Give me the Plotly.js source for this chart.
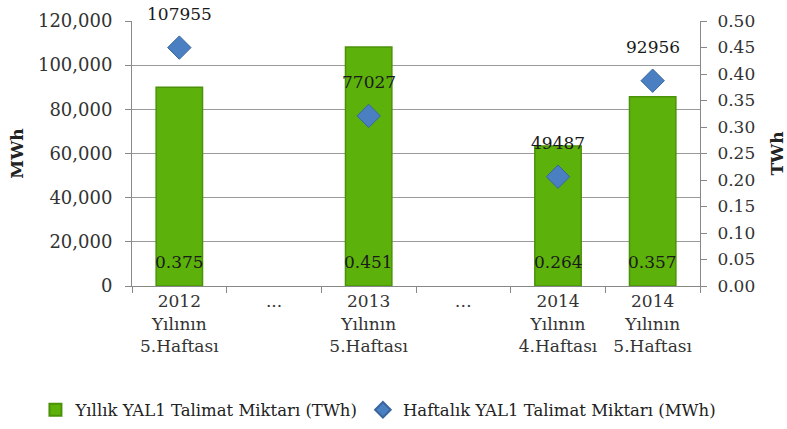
<!DOCTYPE html>
<html>
<head>
<meta charset="utf-8">
<script src="https://cdn.plot.ly/plotly-3.0.1.min.js"></script>
<style>html,body{margin:0;padding:0;background:#fff;}#chart{width:787px;height:429px;}</style>
</head>
<body>
<div id="chart"></div>
<script>
const categories = [
  "2012<br>Yılının<br>5.Haftası",
  "...",
  "2013<br>Yılının<br>5.Haftası",
  "…",
  "2014<br>Yılının<br>4.Haftası",
  "2014<br>Yılının<br>5.Haftası"
];
const yearlyTWh = [0.375, null, 0.451, null, 0.264, 0.357];
const weeklyMWh = [107955, null, 77027, null, 49487, 92956];
const seriesNames = ["Yıllık YAL1 Talimat Miktarı (TWh)", "Haftalık YAL1 Talimat Miktarı (MWh)"];

const FONT = "DejaVu Serif, serif";

// bars on the base axis (right side, TWh); diamonds on the overlaying axis (left side, MWh) so they draw on top
const bars = {
  type: "bar",
  name: seriesNames[0],
  x: categories,
  y: yearlyTWh,
  xaxis: "x",
  yaxis: "y",
  width: 0.49,
  marker: {color: "#5cb10b", line: {color: "#4b9208", width: 1.5}}
};
const diamonds = {
  type: "scatter",
  mode: "markers",
  name: seriesNames[1],
  x: categories,
  y: weeklyMWh,
  xaxis: "x",
  yaxis: "y2",
  marker: {symbol: "diamond", size: 18, color: "#4a7fc1", line: {color: "#3a66a0", width: 1}}
};

const annotations = [];
categories.forEach((c, i) => {
  if (weeklyMWh[i] != null) {
    annotations.push({x: c, y: weeklyMWh[i], xref: "x", yref: "y2", text: String(weeklyMWh[i]),
      showarrow: false, yshift: 34, font: {family: FONT, size: 17, color: "#1a1a1a"}});
  }
  if (yearlyTWh[i] != null) {
    annotations.push({x: c, y: 0, xref: "x", yref: "y", text: yearlyTWh[i].toFixed(3),
      showarrow: false, yanchor: "middle", yshift: 24, font: {family: FONT, size: 17, color: "#1a1a1a"}});
  }
});

const layout = {
  width: 787, height: 429,
  margin: {l: 132, r: 87, t: 21, b: 143, autoexpand: false},
  paper_bgcolor: "#fff", plot_bgcolor: "#fff",
  font: {family: FONT, size: 17, color: "#333"},
  showlegend: true,
  legend: {orientation: "h", x: -0.17, xanchor: "left",
    y: -0.468, yanchor: "middle", itemsizing: "constant",
    font: {family: FONT, size: 16.5, color: "#222"}, itemwidth: 30, traceorder: "normal"},
  xaxis: {
    type: "category", tickson: "boundaries", ticks: "outside", ticklen: 6, tickcolor: "#888",
    showline: true, linecolor: "#888", linewidth: 1, showgrid: false,
    tickfont: {family: FONT, size: 17, color: "#333"}
  },
  yaxis: {
    side: "right", range: [0, 0.5], dtick: 0.05, tickformat: ".2f",
    ticks: "outside", ticklen: 6, tickcolor: "#888", showline: true, linecolor: "#888",
    showgrid: false, zeroline: false, ticklabelstandoff: 7,
    title: {text: "<b>TWh</b>", font: {family: FONT, size: 17, color: "#222"}, standoff: 16},
    tickfont: {family: FONT, size: 17, color: "#333"}
  },
  yaxis2: {
    overlaying: "y", side: "left",
    range: [0, 120000], dtick: 20000, tickformat: ",", ticks: "outside", ticklen: 6, tickcolor: "#888",
    showline: true, linecolor: "#888", showgrid: true, gridcolor: "#9a9a9a", gridwidth: 1,
    zeroline: false, ticklabelstandoff: 9,
    title: {text: "<b>MWh</b>", font: {family: FONT, size: 17, color: "#222"}, standoff: 10},
    tickfont: {family: FONT, size: 18, color: "#333"}
  },
  annotations: annotations
};

Plotly.newPlot("chart", [bars, diamonds], layout, {displayModeBar: false, staticPlot: true});
</script>
</body>
</html>
